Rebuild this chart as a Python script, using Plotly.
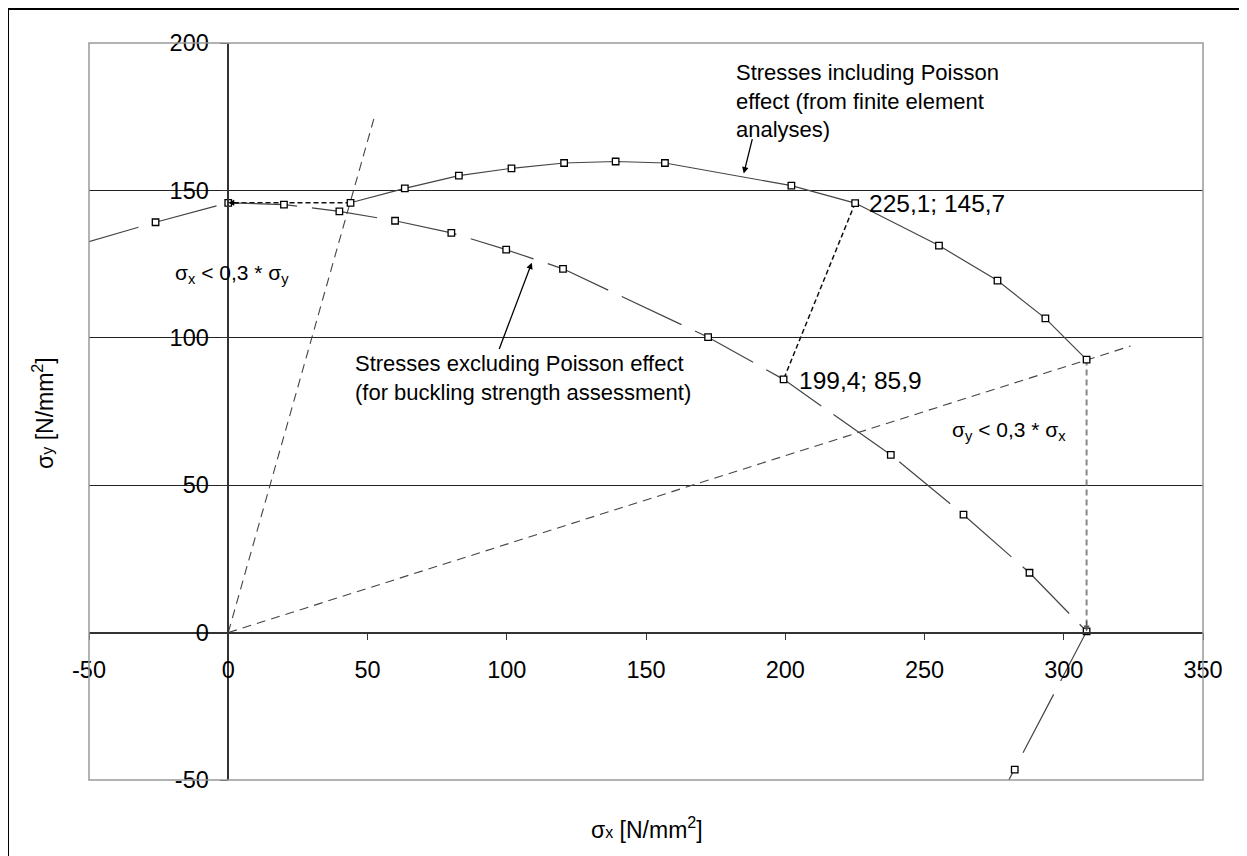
import plotly.graph_objects as go

# ---- data ----
# Stresses including Poisson effect (finite element analyses)
upper_x = [43.9, 63.4, 82.8, 101.7, 120.6, 139.1, 156.8, 202.2, 225.1, 255.2, 276.2, 293.4, 308.2]
upper_y = [145.8, 150.7, 155.0, 157.5, 159.3, 159.8, 159.3, 151.6, 145.7, 131.3, 119.4, 106.6, 92.6]

# Stresses excluding Poisson effect (buckling strength assessment)
lower_x = [-55.0, -26.1, 0.0, 20.0, 39.9, 59.9, 80.1, 99.8, 120.2, 172.3, 199.4, 237.9, 264.0, 287.7, 308.2, 282.4, 277.5]
lower_y = [131.2, 139.2, 145.8, 145.2, 142.9, 139.7, 135.6, 129.9, 123.4, 100.2, 85.9, 60.3, 40.0, 20.3, 0.4, -46.5, -55.0]

# limit lines sigma_x = 0.3*sigma_y and sigma_y = 0.3*sigma_x
ratio = 0.3
limit_sy_end = 175.0   # end of sigma_x < 0.3*sigma_y line (sigma_y value)
limit_sx_end = 324.0   # end of sigma_y < 0.3*sigma_x line (sigma_x value)

# mappings upper -> lower (index pairs)
map_pairs = [(0, 2), (8, 10), (12, 14)]

x_ticks = [-50, 0, 50, 100, 150, 200, 250, 300, 350]
y_ticks = [-50, 0, 50, 100, 150, 200]
x_range = [-50, 350]
y_range = [-50, 200]

FONT = "Liberation Sans, Arial, sans-serif"
LINE = "#444444"

fig = go.Figure()

# limit lines
fig.add_trace(go.Scatter(x=[0, ratio * limit_sy_end], y=[0, limit_sy_end], mode="lines",
                         line=dict(color=LINE, width=1.1, dash="9px,6px"), hoverinfo="skip"))
fig.add_trace(go.Scatter(x=[0, limit_sx_end], y=[0, ratio * limit_sx_end], mode="lines",
                         line=dict(color=LINE, width=1.1, dash="9px,6px"), hoverinfo="skip"))

# mapping connectors
styles = [dict(color="#111111", width=1.5, dash="5px,3px"),
          dict(color="#111111", width=1.5, dash="5px,3px"),
          dict(color="#888888", width=2, dash="6px,4px")]
for (iu, il), st in zip(map_pairs, styles):
    fig.add_trace(go.Scatter(x=[upper_x[iu], lower_x[il]], y=[upper_y[iu], lower_y[il]],
                             mode="lines", line=st, hoverinfo="skip"))

# curves
fig.add_trace(go.Scatter(x=lower_x, y=lower_y, mode="lines+markers",
                         line=dict(color=LINE, width=1.2, dash="66px,15px"),
                         marker=dict(symbol="square", size=6.5, color="white",
                                     line=dict(color="black", width=1.3))))
fig.add_trace(go.Scatter(x=upper_x, y=upper_y, mode="lines+markers",
                         line=dict(color=LINE, width=1.2),
                         marker=dict(symbol="square", size=6.5, color="white",
                                     line=dict(color="black", width=1.3))))

SUBX = '<span style="font-size:16px">x</span>'
SUBY = '<span style="font-size:16px">y</span>'

ann = []
# value labels
ann.append(dict(x=229.3, y=145.5, xref="x", yref="y", text="225,1; 145,7", showarrow=False,
                xanchor="left", yanchor="middle", font=dict(family=FONT, size=24.5, color="black")))
ann.append(dict(x=204.1, y=85.5, xref="x", yref="y", text="199,4; 85,9", showarrow=False,
                xanchor="left", yanchor="middle", font=dict(family=FONT, size=24.5, color="black")))
ann.append(dict(x=-19.9, y=121.8, xref="x", yref="y",
                text="σ<sub>x</sub> &lt; 0,3 * σ<sub>y</sub>", showarrow=False,
                xanchor="left", yanchor="middle", font=dict(family=FONT, size=21, color="black")))
ann.append(dict(x=259.1, y=68.5, xref="x", yref="y",
                text="σ<sub>y</sub> &lt; 0,3 * σ<sub>x</sub>", showarrow=False,
                xanchor="left", yanchor="middle", font=dict(family=FONT, size=21, color="black")))
ann.append(dict(x=181.5, y=180.3, xref="x", yref="y",
                text="Stresses including Poisson<br>effect (from finite element<br>analyses)",
                showarrow=False, xanchor="left", yanchor="middle", align="left",
                font=dict(family=FONT, size=22, color="black")))
ann.append(dict(x=44.7, y=86.5, xref="x", yref="y",
                text="Stresses excluding Poisson effect<br>(for buckling strength assessment)",
                showarrow=False, xanchor="left", yanchor="middle", align="left",
                font=dict(family=FONT, size=22, color="black")))
# label arrows
ann.append(dict(x=185.1, y=155.7, ax=188.3, ay=167.9, xref="x", yref="y", axref="x", ayref="y",
                text="", showarrow=True, arrowhead=2, arrowsize=1, arrowwidth=1.3, arrowcolor="black"))
ann.append(dict(x=109.0, y=125.5, ax=97.1, ay=95.7, xref="x", yref="y", axref="x", ayref="y",
                text="", showarrow=True, arrowhead=2, arrowsize=1, arrowwidth=1.3, arrowcolor="black"))
# arrowheads on mapping connectors
ann.append(dict(x=lower_x[2], y=lower_y[2], ax=12, ay=0, xref="x", yref="y",
                text="", showarrow=True, arrowhead=2, arrowsize=1, arrowwidth=1.2, arrowcolor="black"))
ann.append(dict(x=lower_x[14], y=lower_y[14], ax=0, ay=-12, xref="x", yref="y",
                text="", showarrow=True, arrowhead=2, arrowsize=1, arrowwidth=1.2, arrowcolor="#555"))
# axis titles
ann.append(dict(x=0.501, y=-0.065, xref="paper", yref="paper", showarrow=False,
                text="σ" + SUBX + " [N/mm<sup>2</sup>]", xanchor="center", yanchor="middle",
                font=dict(family=FONT, size=23, color="black")))
ann.append(dict(x=-0.0413, y=0.498, xref="paper", yref="paper", showarrow=False, textangle=-90,
                text="σ" + SUBY + " [N/mm<sup>2</sup>]", xanchor="center", yanchor="middle",
                font=dict(family=FONT, size=23, color="black")))

shapes = [
    # plot border
    dict(type="rect", xref="paper", yref="paper", x0=0, x1=1, y0=0, y1=1,
         line=dict(color="#999999", width=1.5), layer="above"),
    # outer frame (cut off at right and bottom)
    dict(type="rect", xref="paper", yref="paper", x0=-0.0727, x1=1.06, y0=-0.13, y1=1.0461,
         line=dict(color="black", width=2), layer="above"),
]

fig.update_layout(
    width=1239, height=848, autosize=False,
    margin=dict(l=81, r=44, t=35, b=76),
    paper_bgcolor="white", plot_bgcolor="white",
    showlegend=False,
    annotations=ann, shapes=shapes,
    font=dict(family=FONT, color="black"),
    xaxis=dict(range=x_range, tickvals=x_ticks, ticktext=[str(v) for v in x_ticks],
               showgrid=False, zeroline=False, showline=True, linecolor="#333", linewidth=1.5,
               ticks="outside", ticklen=7, tickcolor="#333", tickwidth=1.2,
               ticklabelstandoff=9,
               anchor="free", position=(0 - y_range[0]) / (y_range[1] - y_range[0]),
               tickfont=dict(family=FONT, size=23.5, color="black"), domain=[0, 1]),
    yaxis=dict(range=y_range, tickvals=y_ticks, ticktext=[str(v) for v in y_ticks],
               showgrid=True, gridcolor="#222222", gridwidth=1.2, zeroline=False,
               showline=True, linecolor="#333", linewidth=1.5,
               ticks="outside", ticklen=8, tickcolor="#333", tickwidth=1.2,
               ticklabelstandoff=6,
               anchor="free", position=(0 - x_range[0]) / (x_range[1] - x_range[0]),
               tickfont=dict(family=FONT, size=23.5, color="black"), domain=[0, 1]),
)

fig.write_html("out.html")
